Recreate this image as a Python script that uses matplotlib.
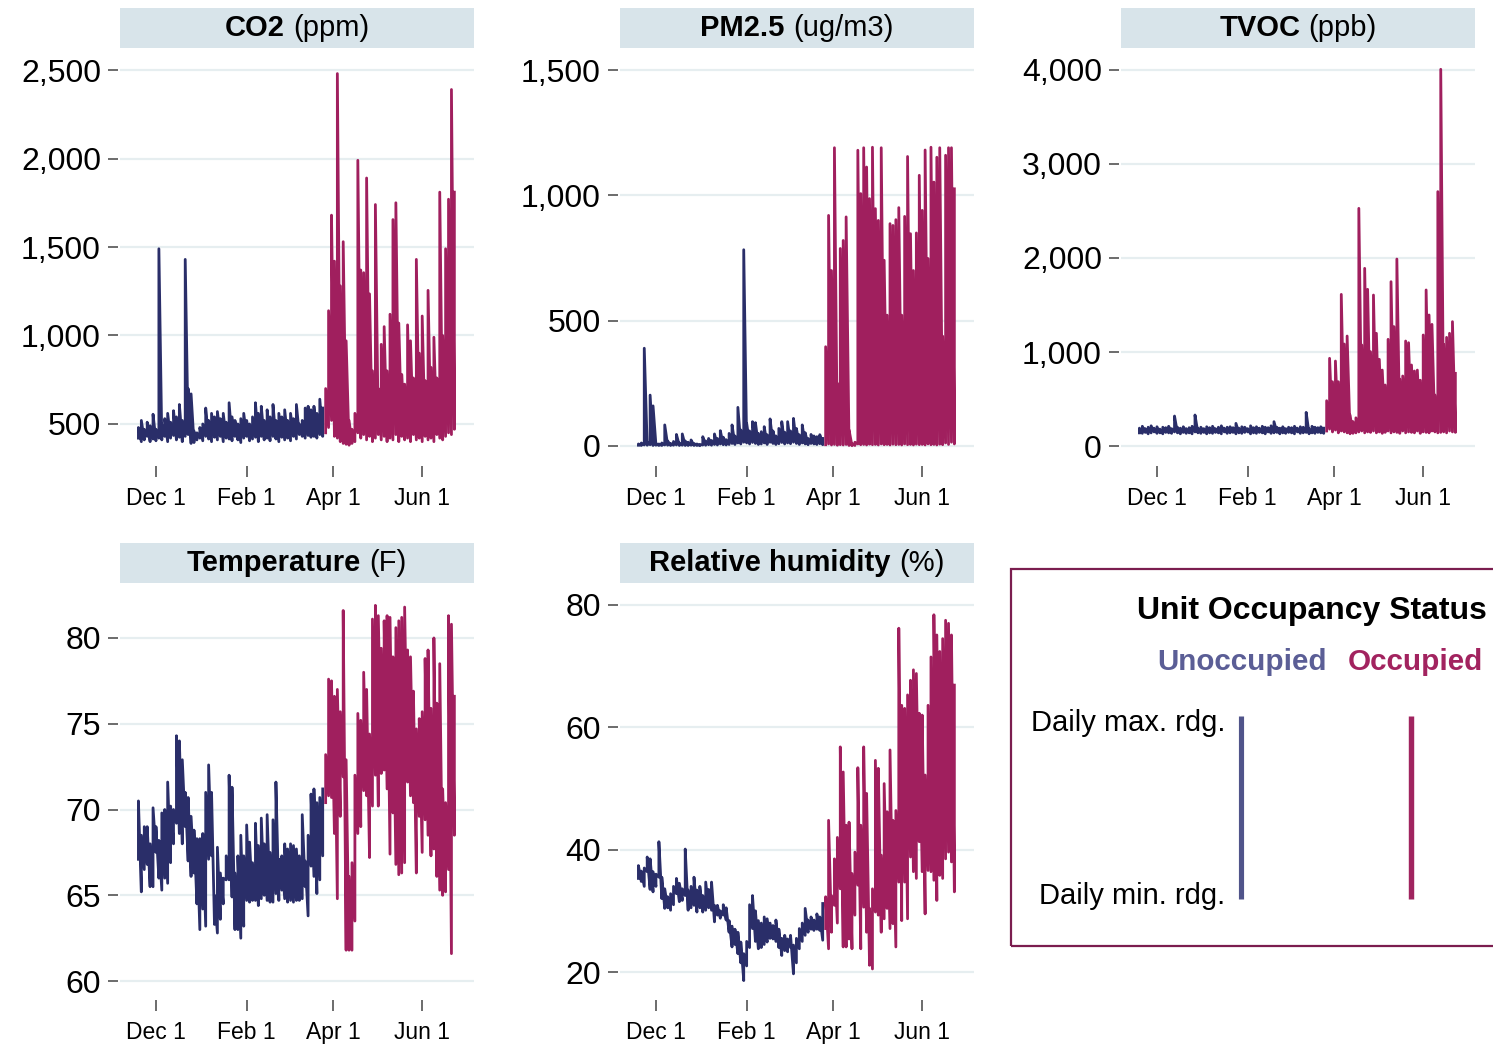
import numpy as np
import pandas as pd
import matplotlib
matplotlib.use("Agg")
import matplotlib.pyplot as plt
from matplotlib.patches import Rectangle
from matplotlib.lines import Line2D
from matplotlib.offsetbox import TextArea, HPacker, AnchoredOffsetbox
from matplotlib.ticker import FuncFormatter

plt.rcParams["font.family"] = ["Liberation Sans", "DejaVu Sans"]

# readings are sampled every 2 days from Nov 19; unit became occupied on Mar 27
START = "2024-11-19"
STEP = "2D"

CO2_UNOCC_HI = [480, 520, 470, 510, 490, 555, 470, 1490, 500, 530,
                560, 510, 575, 540, 610, 520, 1430, 700, 670, 460,
                450, 480, 500, 590, 520, 560, 540, 570, 530, 560,
                510, 620, 540, 520, 500, 530, 560, 520, 500, 540,
                620, 560, 600, 520, 580, 540, 610, 520, 560, 540,
                580, 520, 560, 530, 610, 500, 520, 590, 600, 580,
                600, 560, 640, 590]
CO2_UNOCC_LO = [420, 400, 410, 430, 400, 415, 405, 420, 410, 430,
                400, 420, 435, 410, 425, 400, 430, 440, 390, 395,
                410, 420, 405, 430, 415, 400, 425, 410, 430, 400,
                420, 415, 405, 430, 410, 395, 420, 430, 405, 415,
                425, 400, 430, 410, 420, 405, 430, 415, 400, 425,
                410, 420, 405, 430, 415, 440, 430, 420, 435, 425,
                430, 420, 440, 430]
CO2_OCC_HI = [700, 1140, 1680, 1420, 2480, 1280, 1530, 970, 520, 470,
              560, 1990, 1370, 1355, 1890, 1235, 800, 1740, 700, 950,
              1050, 800, 1120, 1655, 1750, 1070, 780, 725, 1060, 970,
              760, 1430, 900, 1110, 745, 1255, 820, 990, 760, 1810,
              1000, 1490, 1770, 2390, 1810]
CO2_OCC_LO = [450, 480, 520, 430, 420, 400, 390, 385, 380, 390,
              400, 450, 420, 440, 410, 430, 400, 420, 440, 410,
              430, 400, 420, 410, 440, 400, 430, 410, 420, 400,
              440, 410, 420, 400, 430, 410, 420, 400, 440, 420,
              410, 430, 450, 440, 470]

PM_UNOCC_HI = [8, 12, 390, 15, 203, 160, 10, 8, 12, 84,
               20, 10, 18, 46, 12, 48, 20, 15, 24, 10,
               8, 6, 37, 20, 30, 22, 48, 30, 61, 35,
               25, 50, 84, 40, 154, 64, 783, 90, 60, 97,
               93, 50, 57, 77, 45, 108, 60, 40, 70, 97,
               55, 97, 60, 110, 70, 45, 84, 53, 30, 46,
               40, 37, 45, 30]
PM_UNOCC_LO = [3, 2, 4, 3, 5, 2, 3, 2, 2, 4,
               3, 2, 3, 4, 2, 3, 2, 2, 3, 2,
               2, 1, 4, 3, 5, 3, 6, 4, 8, 5,
               4, 6, 10, 6, 12, 8, 15, 12, 8, 14,
               10, 6, 8, 12, 6, 15, 10, 6, 9, 14,
               8, 12, 9, 15, 10, 6, 12, 8, 5, 10,
               8, 6, 9, 5]
PM_OCC_HI = [396, 920, 700, 1190, 250, 788, 820, 914, 64, 10,
             15, 1180, 1007, 1190, 1113, 987, 1192, 947, 900, 1190,
             741, 522, 887, 880, 903, 951, 522, 916, 1155, 847,
             700, 850, 1080, 940, 1181, 748, 1192, 1053, 1152, 1190,
             438, 1160, 1190, 1190, 1026]
PM_OCC_LO = [5, 8, 4, 6, 3, 5, 4, 6, 2, 1,
             2, 8, 5, 6, 4, 7, 5, 6, 4, 8,
             5, 6, 4, 7, 5, 6, 4, 8, 5, 6,
             4, 7, 5, 6, 4, 8, 5, 6, 4, 7,
             5, 12, 6, 15, 8]

TVOC_UNOCC_HI = [190, 210, 185, 200, 215, 190, 205, 180, 200, 195,
                 210, 185, 319, 200, 190, 205, 185, 195, 210, 330,
                 190, 200, 185, 205, 195, 210, 185, 200, 215, 190,
                 200, 205, 195, 241, 190, 205, 200, 185, 215, 195,
                 205, 190, 210, 200, 195, 215, 259, 200, 190, 205,
                 185, 200, 195, 210, 190, 205, 200, 358, 185, 210,
                 200, 195, 205, 190]
TVOC_UNOCC_LO = [140, 135, 145, 130, 140, 150, 135, 140, 130, 145,
                 140, 135, 150, 140, 130, 145, 135, 140, 130, 150,
                 140, 135, 145, 130, 140, 135, 145, 140, 130, 150,
                 135, 140, 145, 130, 140, 135, 145, 150, 130, 140,
                 135, 145, 140, 130, 150, 135, 140, 145, 130, 140,
                 135, 145, 140, 130, 150, 135, 140, 145, 130, 140,
                 135, 145, 140, 135]
TVOC_OCC_HI = [482, 933, 684, 904, 684, 1613, 1085, 1170, 330, 260,
               300, 2528, 1075, 1890, 1667, 1003, 1606, 1199, 922, 808,
               649, 1135, 1748, 1270, 1989, 713, 745, 1117, 1099, 862,
               798, 808, 700, 1181, 1660, 1394, 1294, 543, 2706, 4007,
               1082, 1156, 1199, 1323, 773]
TVOC_OCC_LO = [160, 180, 150, 170, 140, 160, 150, 140, 130, 135,
               140, 150, 160, 140, 150, 145, 160, 140, 150, 135,
               145, 160, 140, 150, 145, 135, 160, 140, 150, 145,
               140, 160, 135, 150, 145, 140, 160, 150, 140, 145,
               150, 140, 160, 150, 145]

TEMP_UNOCC_HI = [70.5, 68.5, 69.0, 69.0, 68.0, 70.1, 69.0, 68.2, 69.8, 70.0,
                 71.6, 70.2, 70.0, 74.3, 74.0, 72.9, 71.0, 70.7, 69.6, 68.8,
                 68.3, 68.3, 68.6, 71.0, 72.6, 71.0, 65.0, 67.8, 66.3, 66.0,
                 67.3, 72.0, 71.3, 66.3, 67.3, 68.5, 67.3, 69.1, 68.1, 66.9,
                 69.2, 67.9, 69.5, 68.0, 69.7, 67.5, 69.4, 71.6, 67.1, 67.3,
                 68.0, 67.7, 68.0, 67.9, 67.7, 67.3, 69.7, 67.0, 68.5, 70.9,
                 71.2, 70.4, 70.7, 71.2]
TEMP_UNOCC_LO = [67.1, 65.2, 66.5, 66.8, 65.5, 65.5, 67.5, 66.0, 65.3, 66.0,
                 65.7, 66.9, 68.0, 69.2, 68.6, 68.0, 69.0, 67.0, 66.1, 66.3,
                 64.5, 63.0, 64.2, 63.2, 67.1, 67.3, 63.3, 62.8, 63.6, 64.5,
                 65.9, 65.9, 64.9, 63.0, 63.0, 62.5, 63.2, 64.7, 64.6, 64.7,
                 64.7, 64.4, 64.8, 65.0, 64.7, 64.6, 64.6, 65.1, 64.7, 65.3,
                 64.8, 64.6, 64.7, 64.6, 64.7, 64.7, 64.8, 65.5, 63.8, 66.7,
                 66.1, 65.1, 65.9, 67.3]
TEMP_OCC_HI = [73.2, 77.6, 77.5, 76.6, 77.0, 75.7, 81.6, 72.9, 66.1, 66.9,
               72.0, 75.6, 75.2, 78.0, 77.0, 74.4, 81.1, 81.9, 81.3, 79.4,
               81.0, 81.3, 81.2, 78.9, 80.6, 81.0, 81.2, 81.8, 79.3, 78.9,
               76.9, 74.7, 75.3, 75.7, 78.8, 79.3, 75.9, 80.0, 76.2, 78.5,
               71.2, 70.4, 81.3, 80.8, 76.6]
TEMP_OCC_LO = [70.4, 70.8, 70.7, 68.6, 64.8, 69.6, 71.9, 61.8, 61.8, 61.8,
               63.5, 68.6, 69.0, 71.1, 70.8, 67.2, 70.2, 72.0, 70.2, 72.1,
               72.3, 71.2, 67.4, 69.8, 66.8, 66.2, 66.3, 66.9, 71.6, 70.8,
               70.4, 66.3, 69.6, 67.5, 69.4, 68.5, 67.3, 67.7, 66.1, 65.3,
               65.0, 65.2, 66.5, 61.6, 68.5]

RH_UNOCC_HI = [37.4, 36.5, 37.0, 38.8, 38.5, 36.4, 36.0, 41.3, 35.5, 33.6,
               32.3, 32.8, 34.0, 35.3, 34.5, 33.6, 40.1, 33.4, 34.0, 35.5,
               33.4, 34.0, 32.5, 34.7, 33.5, 34.7, 30.9, 30.9, 30.0, 31.0,
               30.5, 28.4, 27.5, 27.0, 26.5, 24.9, 23.0, 25.0, 31.0, 32.5,
               30.0, 28.4, 28.0, 29.0, 28.7, 28.0, 27.6, 28.5, 27.0, 25.5,
               26.0, 25.4, 26.0, 24.4, 25.5, 27.1, 28.0, 30.4, 28.5, 29.0,
               28.5, 29.5, 29.0, 31.2]
RH_UNOCC_LO = [35.3, 34.8, 34.0, 36.4, 33.5, 33.1, 34.0, 35.5, 32.0, 30.4,
               30.5, 30.1, 31.0, 32.8, 31.5, 31.7, 32.5, 30.1, 30.5, 30.9,
               29.8, 30.5, 29.8, 30.1, 30.5, 30.1, 28.2, 29.3, 28.8, 29.3,
               28.5, 26.5, 24.1, 24.5, 23.0, 21.5, 18.6, 21.0, 24.0, 27.1,
               25.0, 23.8, 24.0, 24.5, 24.9, 25.5, 25.4, 25.0, 24.0, 22.7,
               23.5, 23.3, 24.0, 19.7, 21.5, 23.8, 25.0, 26.0, 26.5, 27.0,
               26.8, 27.0, 26.8, 25.2]
RH_OCC_HI = [32.3, 44.8, 32.5, 38.5, 42.0, 56.8, 52.7, 44.0, 44.5, 36.1,
             39.6, 53.4, 44.0, 56.8, 49.2, 30.4, 33.6, 54.6, 53.3, 39.1,
             50.8, 46.2, 56.3, 44.8, 46.4, 76.2, 63.6, 63.1, 65.3, 67.7,
             69.4, 68.8, 62.3, 62.0, 52.2, 63.6, 71.5, 78.4, 75.1, 72.4,
             74.5, 77.5, 77.0, 75.1, 66.9]
RH_OCC_LO = [27.1, 23.8, 26.5, 30.9, 28.0, 33.6, 24.1, 24.1, 25.4, 23.8,
             29.3, 34.2, 23.8, 30.6, 26.5, 21.1, 20.5, 29.8, 29.3, 26.5,
             28.7, 30.4, 27.1, 27.9, 24.1, 34.7, 28.4, 34.7, 28.7, 38.8,
             36.4, 35.3, 41.3, 36.4, 29.5, 36.6, 36.4, 35.0, 31.7, 35.8,
             35.3, 38.5, 39.6, 38.0, 33.1]

TICK_DATES = ["2024-12-01", "2025-02-01", "2025-04-01", "2025-06-01"]
TICK_LABELS = ["Dec 1", "Feb 1", "Apr 1", "Jun 1"]

UNOCC_COLOR = "#2a2e69"
OCC_COLOR = "#a01f5e"
GRID_COLOR = "#e6eef0"
STRIP_COLOR = "#d8e4ea"

W, H = 1493, 1047


def fx(px):
    return px / W


def fy(py):
    return 1 - py / H


def zigzag(x, lo, hi):
    xs = np.repeat(x, 2)
    ys = np.column_stack([lo, hi]).ravel()
    return xs, ys


n_unocc = len(CO2_UNOCC_HI)
n_occ = len(CO2_OCC_HI)
dates = pd.date_range(START, periods=n_unocc + n_occ, freq=STEP).values
d_unocc = dates[:n_unocc]
d_occ = dates[n_unocc:]

# (bold title, unit, data, yticks, ylim, left px, top px, bottom px)
panels = [
    ("CO2", "(ppm)", (CO2_UNOCC_LO, CO2_UNOCC_HI, CO2_OCC_LO, CO2_OCC_HI),
     [500, 1000, 1500, 2000, 2500], (319, 2602), 120, 52, 456),
    ("PM2.5", "(ug/m3)", (PM_UNOCC_LO, PM_UNOCC_HI, PM_OCC_LO, PM_OCC_HI),
     [0, 500, 1000, 1500], (-40, 1572), 620, 52, 456),
    ("TVOC", "(ppb)", (TVOC_UNOCC_LO, TVOC_UNOCC_HI, TVOC_OCC_LO, TVOC_OCC_HI),
     [0, 1000, 2000, 3000, 4000], (-106, 4191), 1121, 52, 456),
    ("Temperature", "(F)", (TEMP_UNOCC_LO, TEMP_UNOCC_HI, TEMP_OCC_LO, TEMP_OCC_HI),
     [60, 65, 70, 75, 80], (59.48, 82.97), 120, 587, 990),
    ("Relative humidity", "(%)", (RH_UNOCC_LO, RH_UNOCC_HI, RH_OCC_LO, RH_OCC_HI),
     [20, 40, 60, 80], (17.06, 82.94), 620, 587, 990),
]

fig = plt.figure(figsize=(W / 100, H / 100), dpi=100)
AX_W = 354
xlim = (np.datetime64("2024-11-06T10:00"), np.datetime64("2025-07-06T10:00"))

for bold, unit, (ulo, uhi, olo, ohi), yticks, ylim, x0, top, bot in panels:
    ax = fig.add_axes([fx(x0), fy(bot), AX_W / W, (bot - top) / H])
    xs, ys = zigzag(d_unocc, ulo, uhi)
    ax.plot(xs, ys, color=UNOCC_COLOR, lw=2.0)
    xs, ys = zigzag(d_occ, olo, ohi)
    ax.plot(xs, ys, color=OCC_COLOR, lw=2.0)

    ax.set_xlim(*xlim)
    ax.set_ylim(*ylim)
    ax.set_yticks(yticks)
    ax.yaxis.set_major_formatter(FuncFormatter(lambda v, p: f"{v:,.0f}"))
    ax.set_xticks(pd.to_datetime(TICK_DATES).values)
    ax.set_xticklabels(TICK_LABELS)

    ax.yaxis.grid(True, color=GRID_COLOR, lw=1.6)
    ax.set_axisbelow(True)
    for s in ax.spines.values():
        s.set_color("none")
    ax.spines["bottom"].set_position(("outward", 7.2))
    ax.spines["left"].set_position(("outward", 1.5))
    ax.tick_params(axis="y", length=7.2, width=1.1, color="#444444",
                   pad=5, labelsize=23)
    ax.tick_params(axis="x", length=8, width=1.1, color="#444444",
                   pad=7, labelsize=16.5)

    # facet strip with bold name + regular unit
    fig.add_artist(Rectangle((fx(x0), fy(top - 4)), AX_W / W, 40 / H,
                             transform=fig.transFigure, facecolor=STRIP_COLOR,
                             edgecolor="none"))
    box = HPacker(children=[
        TextArea(bold, textprops=dict(fontsize=21, fontweight="bold")),
        TextArea(unit, textprops=dict(fontsize=21)),
    ], align="baseline", pad=0, sep=6)
    fig.add_artist(AnchoredOffsetbox(
        loc="center", child=box, pad=0, borderpad=0, frameon=False,
        bbox_to_anchor=(fx(x0 + AX_W / 2), fy(top - 24)),
        bbox_transform=fig.transFigure))

# legend panel
fig.add_artist(Rectangle((fx(1011), fy(946)), (1500 - 1011) / W, (946 - 569) / H,
                         transform=fig.transFigure, facecolor="none",
                         edgecolor="#7b1d4f", lw=1.6))
fig.text(fx(1487), fy(619), "Unit Occupancy Status", ha="right", va="baseline",
         fontsize=23, fontweight="bold")
fig.text(fx(1157), fy(670), "Unoccupied", ha="left", va="baseline",
         fontsize=21.3, fontweight="bold", color="#5b5e96")
fig.text(fx(1348), fy(670), "Occupied", ha="left", va="baseline",
         fontsize=21.3, fontweight="bold", color="#a2235f")
fig.text(fx(1225), fy(731), "Daily max. rdg.", ha="right", va="baseline", fontsize=21)
fig.text(fx(1225), fy(904), "Daily min. rdg.", ha="right", va="baseline", fontsize=21)
fig.add_artist(Line2D([fx(1241), fx(1241)], [fy(716), fy(899)],
                      transform=fig.transFigure, color="#50548a", lw=3.7,
                      solid_capstyle="butt"))
fig.add_artist(Line2D([fx(1410.5), fx(1410.5)], [fy(716), fy(899)],
                      transform=fig.transFigure, color="#a0245f", lw=3.9,
                      solid_capstyle="butt"))

fig.savefig("out.png", dpi=100)
